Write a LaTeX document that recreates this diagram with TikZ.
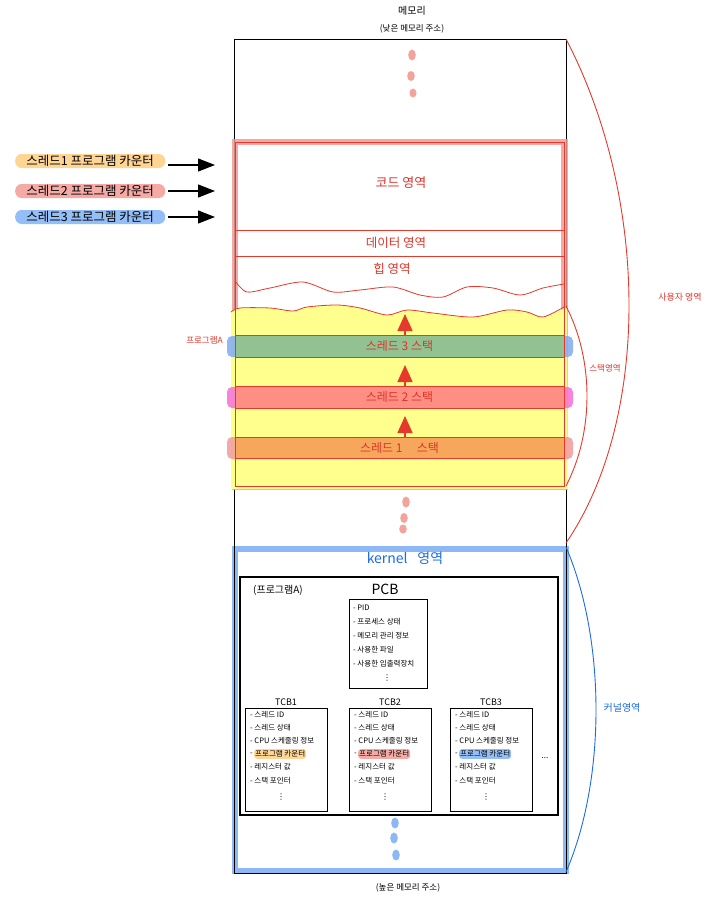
\documentclass[tikz,border=0pt]{standalone}
\usepackage{fontspec}
\setmainfont{Noto Sans CJK KR}
\newfontfamily\dejavu{DejaVu Sans}
\usetikzlibrary{arrows.meta}
\definecolor{lnred}{HTML}{E5392B}
\definecolor{txred}{HTML}{E0342A}
\definecolor{glow}{HTML}{F29A94}
\definecolor{ylw}{HTML}{FFFF8E}
\definecolor{grn}{HTML}{92C292}
\definecolor{sal}{HTML}{FF8F84}
\definecolor{org}{HTML}{F7A75C}
\definecolor{endblue}{HTML}{7FAAF0}
\definecolor{endmag}{HTML}{F56FD5}
\definecolor{endred}{HTML}{F09A9A}
\definecolor{kblue}{HTML}{8DB8F4}
\definecolor{txblue}{HTML}{1C6BE3}
\definecolor{hlorg}{HTML}{FFD594}
\definecolor{hlpink}{HTML}{F5AAA5}
\definecolor{hlblue}{HTML}{93BEF7}
\definecolor{dotpink}{HTML}{F4A39C}
\begin{document}
\begin{tikzpicture}[x=1pt,y=-1pt,
  every node/.style={inner sep=0pt},
  fs/.style={font=\fontsize{#1}{#1}\selectfont},
  redtxt/.style={text=txred},
  thinred/.style={draw=lnred, line width=0.8pt},
  band/.style={minimum width=329pt, minimum height=21pt, text=txred, fs=12},
  bandend/.style={rounded corners=5pt},
  uparrow/.style={draw=lnred, fill=lnred, line width=1.6pt, -{Triangle[width=15pt,length=17pt]}},
  pcarrow/.style={line width=1.2pt, -{Triangle[width=13pt,length=17pt]}, shorten <=3pt},
  pclab/.style={anchor=west, rounded corners=6.5pt, minimum width=150pt, minimum height=14pt, fs=12.5},
  item/.style={anchor=west, fs=7.5},
  hl/.style={anchor=west, rounded corners=3pt, inner xsep=1pt, inner ysep=1.5pt, fs=7.5},
  box/.style={draw, line width=1pt},
  arc/.style={line width=0.9pt}
  ]
\useasboundingbox (0,0) rectangle (713,913);

% ---------- titles ----------
\node[fs=10] (memt) at (412,11) {메모리};
\node[fs=8.5] (lowt) at (412,29) {(낮은 메모리 주소)};

% ---------- kernel blue border ----------
\draw[kblue, line width=6pt] (235,549) rectangle (566,871);

% ---------- main box ----------
\draw[line width=1pt] (234,39) rectangle (566,873);

% top pink dots
\fill[dotpink] (412,55) ellipse (3.8 and 5.5);
\fill[dotpink] (411,76) ellipse (3.8 and 5);
\fill[dotpink] (413,93) ellipse (3.5 and 4.5);

% ---------- red user block ----------
\draw[glow, line width=7pt, opacity=0.85] (235,142) rectangle (564,486);
\fill[white] (238,145) rectangle (561,483);
% yellow stack region
\fill[ylw] plot[smooth] coordinates {(231,312) (240,308) (270,308) (293,311) (307,307) (337,305) (360,308) (387,315) (407,310) (433,313) (473,317) (507,310) (527,312) (543,317) (567,307)} -- (568,489) -- (231,489) -- cycle;

% bands
\fill[endred, bandend, opacity=0.85] (227,437) rectangle (573,459);
\fill[endmag, bandend, opacity=0.85] (227,387) rectangle (573,408);
\fill[endblue, bandend, opacity=0.85] (227,336) rectangle (573,357);
\node[band, fill=org] (s1) at (399.5,448) {스레드 1\hspace{1.2em}스택};
\node[band, fill=sal] (s2) at (399.5,397.5) {스레드 2 스택};
\node[band, fill=grn] (s3) at (399.5,346.5) {스레드 3 스택};
\foreach \s in {s1,s2,s3}{
  \draw[thinred] (\s.north west) -- (\s.north east);
  \draw[thinred] (\s.south west) -- (\s.south east);
}

% red thin frame and dividers
\draw[thinred] (235,142) rectangle (564,486);
\draw[thinred] (235,230) -- (564,230);
\draw[thinred] (235,256) -- (564,256);
\draw[thinred] plot[smooth] coordinates {(236,282) (247,292) (270,288) (303,282) (333,292) (360,290) (393,287) (420,295) (443,297) (467,287) (493,288) (520,295) (543,288) (564,284)};
\draw[thinred] plot[smooth] coordinates {(231,312) (240,308) (270,308) (293,311) (307,307) (337,305) (360,308) (387,315) (407,310) (433,313) (473,317) (507,310) (527,312) (543,317) (564,307)};

% region labels
\node[redtxt, fs=13] (code) at (401,183) {코드 영역};
\node[redtxt, fs=12.5] (data) at (396,243) {데이터 영역};
\node[redtxt, fs=12.5] (heap) at (392,269) {힙 영역};
\node[redtxt, fs=8.5, anchor=east] (proga) at (223,340) {프로그램A};

% up arrows
\coordinate (h3) at (405,314);
\coordinate (h2) at (405,365);
\coordinate (h1) at (405,416);
\draw[uparrow] (s3.north -| h3) -- (h3);
\draw[uparrow] (s2.north -| h2) -- (h2);
\draw[uparrow] (s1.north -| h1) -- (h1);

% lower pink dots
\fill[dotpink] (406,502) ellipse (3.8 and 5.5);
\fill[dotpink] (404,518) ellipse (3.8 and 5);
\fill[dotpink] (403,529) ellipse (3.8 and 4.5);

% ---------- left PC labels ----------
\node[pclab, fill=hlorg] (pc1) at (15,161) {스레드1 프로그램 카운터};
\node[pclab, fill=hlpink] (pc2) at (15,191) {스레드2 프로그램 카운터};
\node[pclab, fill=hlblue] (pc3) at (15,217) {스레드3 프로그램 카운터};
\coordinate (pe1) at (215,165);
\coordinate (pe2) at (215,191);
\coordinate (pe3) at (215,217);
\draw[pcarrow] (pc1.east |- pe1) -- (pe1);
\draw[pcarrow] (pc2.east |- pe2) -- (pe2);
\draw[pcarrow] (pc3.east |- pe3) -- (pe3);

% ---------- kernel area ----------
\node[text=txblue, fs=14] (kt) at (405,558) {kernel\hspace{0.7em}영역};
\draw[line width=1.3pt] (240,577) rectangle (558,815);
\node[fs=10] (pa) at (278,590) {(프로그램A)};
\node[fs=14] (pcbt) at (385,589) {PCB};
\draw[box] (349,599) rectangle (427,688);
\node[item] (p1) at (353,608) {- PID};
\node[item] (p2) at (353,622) {- 프로세스 상태};
\node[item] (p3) at (353,636) {- 메모리 관리 정보};
\node[item] (p4) at (353,650) {- 사용한 파일};
\node[item] (p5) at (353,664) {- 사용한 입출력장치};
\node[font=\dejavu\fontsize{8}{8}\selectfont] (p6) at (387,678) {⋮};

\foreach \i/\x/\c in {1/245/hlorg, 2/349/hlpink, 3/450/hlblue}{
  \draw[box] (\x,708) rectangle ({\x+82},811);
  \node[fs=9] (tcb\i) at ({\x+41},702) {TCB\i};
  \node[item] (t\i a) at ({\x+5},715) {- 스레드 ID};
  \node[item] (t\i b) at ({\x+5},728) {- 스레드 상태};
  \node[item] (t\i c) at ({\x+5},741) {- CPU 스케줄링 정보};
  \node[item] (t\i d) at ({\x+5},754) {-};
  \node[hl, fill=\c] (t\i e) at ({\x+9},754) {프로그램 카운터};
  \node[item] (t\i f) at ({\x+5},767) {- 레지스터 값};
  \node[item] (t\i g) at ({\x+5},781) {- 스택 포인터};
  \node[font=\dejavu\fontsize{8}{8}\selectfont] (t\i h) at ({\x+36},797) {⋮};
}
\node[fs=8] (more) at (545,758) {...};

% blue dots
\fill[kblue] (395,823) ellipse (3.8 and 5.5);
\fill[kblue] (394,838) ellipse (3.8 and 5.5);
\fill[kblue] (396,855) ellipse (3.8 and 5.5);

\node[fs=8.5] (hight) at (408,888) {(높은 메모리 주소)};

% ---------- right braces ----------
\coordinate (ua) at (566,39);
\coordinate (ub) at (566,543);
\coordinate (sa) at (566,306);
\coordinate (sb) at (566,486);
\coordinate (ka) at (566,547);
\coordinate (kb) at (566,872);
\draw[arc, lnred] (ua) .. controls (650,200) and (650,420) .. (ub);
\draw[arc, lnred] (sa) .. controls (594,360) and (594,432) .. (sb);
\draw[arc, txblue] (ka) .. controls (606,640) and (606,780) .. (kb);
\node[redtxt, fs=9] (usr) at (680,297) {사용자 영역};
\node[redtxt, fs=8.5] (stk) at (605,368) {스택영역};
\node[text=txblue, fs=10] (krn) at (622,708) {커널영역};
\end{tikzpicture}
\end{document}
